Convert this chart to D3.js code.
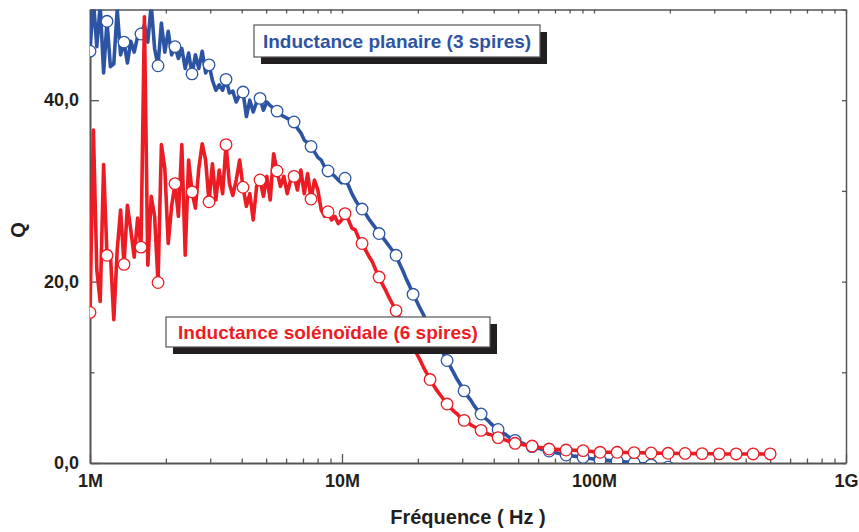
<!DOCTYPE html>
<html><head><meta charset="utf-8">
<script src="https://cdn.jsdelivr.net/npm/d3@7"></script>
<style>
body{margin:0;background:#fff}
text{font-family:"Liberation Sans",Arial,Helvetica,sans-serif;font-weight:bold}
</style>
</head><body>
<svg id="chart" width="859" height="532"></svg>
<script>
// ---- data ----
const sweepStartHz = 1e6;      // first frequency of the log sweep
const sweepStopHz = 5e8;       // last frequency of the log sweep
const markerEvery = 5;         // a marker on every 5th sample

const qPlanaire = [
  45.4, 51, 45.9, 50.5, 43.0, 48.7, 43.7, 44.0, 50, 45.0,
  46.4, 44.1, 46.5, 45.3, 47.0, 47.3, 48.3, 46.4, 50.5, 45.7,
  43.8, 48.5, 45.3, 47.6, 45.0, 45.9, 44.6, 45.7, 43.5, 45.2,
  42.9, 45.0, 43.5, 45.4, 43.0, 43.9, 42.2, 41.1, 41.7, 41.1,
  42.3, 40.8, 41.0, 39.8, 40.6, 40.9, 38.2, 40.0, 38.7, 39.8,
  40.2, 38.9, 39.8, 39.4, 39.1, 38.8, 38.4, 38.2, 38.0, 37.8,
  37.6, 36.9, 36.4, 35.6, 35.3, 34.9, 34.3, 33.7, 33.4, 32.6,
  32.2, 31.9, 31.6, 31.2, 30.9, 31.4, 30.6, 29.7, 29.0, 28.4,
  28.0, 27.5, 26.9, 26.4, 25.9, 25.3, 24.9, 24.4, 23.9, 23.4,
  22.9, 22.0, 21.2, 20.3, 19.5, 18.6, 17.9, 17.1, 16.4, 15.6,
  14.9, 14.2, 13.5, 12.7, 12.0, 11.3, 10.6, 9.9, 9.2, 8.6,
  7.95, 7.4, 6.9, 6.3, 5.8, 5.4, 5.0, 4.7, 4.3, 4.0,
  3.7, 3.4, 3.2, 2.9, 2.7, 2.5, 2.35, 2.2, 2.05, 1.9,
  1.8, 1.7, 1.6, 1.5, 1.4, 1.32, 1.22, 1.13, 1.04, 0.96,
  0.88, 0.83, 0.78, 0.73, 0.68, 0.63, 0.57, 0.5, 0.44, 0.38,
  0.33, 0.31, 0.29, 0.26, 0.24, 0.22, 0.18, 0.14, 0.1, 0.06,
  0.03, -0.01, -0.06, -0.1, -0.15, -0.2, -0.25, -0.3, -0.35, -0.4,
  -0.45, -0.5, -0.55, -0.6, -0.65, -0.7, -0.74, -0.78, -0.82, -0.86,
  -0.9, -1.0, -1.1, -1.2, -1.3, -1.4, -1.5, -1.6, -1.8, -1.9,
  -2.0, -2.1, -2.2, -2.4, -2.5, -2.6, -2.7, -2.9, -3.0, -3.2,
  -3.3
];

const qSolenoidale = [
  16.6, 36.7, 21.3, 17.8, 32.9, 22.9, 23.1, 15.8, 23.5, 27.9,
  21.9, 28.4, 25.7, 22.7, 27.0, 23.8, 49.2, 21.8, 29.4, 27.2,
  19.9, 35.1, 32.5, 24.2, 28.3, 30.8, 27.2, 35.1, 22.9, 33.4,
  29.9, 28.1, 32.5, 35.2, 33.4, 28.8, 33.0, 29.0, 32.3, 29.7,
  35.1, 30.8, 29.5, 31.2, 33.4, 30.4, 28.3, 29.7, 26.8, 30.5,
  31.2, 29.4, 31.6, 29.0, 34.1, 32.2, 30.5, 31.6, 29.7, 31.2,
  31.6, 30.1, 32.3, 29.7, 31.9, 29.1, 31.2, 30.1, 27.9, 27.2,
  27.7, 26.8, 27.2, 26.4, 26.8, 27.5, 26.8, 25.9, 25.7, 24.8,
  24.2, 23.5, 22.8, 22.2, 21.3, 20.5, 19.7, 19.0, 18.2, 17.5,
  16.8, 16.0, 15.2, 14.4, 13.6, 12.9, 12.1, 11.4, 10.6, 9.9,
  9.2, 8.6, 8.0, 7.5, 7.0, 6.5, 6.1, 5.7, 5.4, 5.0,
  4.7, 4.5, 4.2, 4.0, 3.8, 3.6, 3.4, 3.2, 3.1, 2.95,
  2.8, 2.67, 2.55, 2.42, 2.3, 2.17, 2.1, 2.04, 1.98, 1.92,
  1.87, 1.8, 1.73, 1.67, 1.6, 1.54, 1.52, 1.5, 1.47, 1.45,
  1.43, 1.42, 1.4, 1.39, 1.37, 1.36, 1.32, 1.29, 1.25, 1.22,
  1.18, 1.18, 1.18, 1.18, 1.18, 1.18, 1.17, 1.16, 1.15, 1.15,
  1.14, 1.13, 1.13, 1.12, 1.11, 1.1, 1.09, 1.09, 1.08, 1.07,
  1.07, 1.06, 1.06, 1.05, 1.05, 1.05, 1.04, 1.04, 1.03, 1.03,
  1.03, 1.02, 1.02, 1.02, 1.01, 1.01, 1.01, 1.0, 1.0, 1.0,
  1.0, 1.0, 1.0, 1.0, 1.0, 1.0, 1.0, 1.0, 1.0, 1.0,
  1.0
];

const xTickValues = [1e6, 1e7, 1e8, 1e9];
const xTickLabels = ["1M", "10M", "100M", "1G"];
const yTickValues = [0, 20, 40];
const yTickLabels = ["0,0", "20,0", "40,0"];
const yMinorValues = [10, 30, 50];
const seriesNames = ["Inductance planaire (3 spires)", "Inductance solénoïdale (6 spires)"];
const xTitle = "Fréquence ( Hz )";
const yTitle = "Q";

// ---- drawing ----
const BLUE = "#2d54a3", RED = "#ec1c24", INK = "#231f20", AX = "#555";
const L = 90, R = 846, T = 9.5, B = 463;
const svg = d3.select("#chart");

const x = d3.scaleLog().domain([1e6, 1e9]).range([L, R]);
const y = d3.scaleLinear().domain([0, 50]).range([B, T]);

const n = qPlanaire.length;
const freqAt = i => sweepStartHz * Math.pow(sweepStopHz / sweepStartHz, i / (n - 1));
const toPts = arr => arr.map((q, i) => ({f: freqAt(i), q, i}));
const blue = toPts(qPlanaire), red = toPts(qSolenoidale);

svg.append("clipPath").attr("id", "clip").append("rect")
  .attr("x", L).attr("y", T).attr("width", R - L).attr("height", B - T);

const minorX = [];
for (let d = 1e6; d < 1e9; d *= 10) for (let k = 2; k <= 9; k++) minorX.push(d * k);

function styleAxis(g, w) {
  g.select(".domain").attr("stroke", AX).attr("stroke-width", w);
  g.selectAll(".tick line").attr("stroke", AX).attr("stroke-width", 1.3);
  g.selectAll("text").attr("fill", INK).style("font-size", "18px").style("font-weight", "bold")
    .style("font-family", '"Liberation Sans", Arial, sans-serif');
}

// bottom axis
const gb = svg.append("g").attr("transform", `translate(0,${B})`)
  .call(d3.axisBottom(x).tickValues(xTickValues).tickSizeInner(-9).tickSizeOuter(0).tickPadding(11)
    .tickFormat((d, i) => xTickLabels[i]));
styleAxis(gb, 2);
svg.append("g").attr("transform", `translate(0,${B})`)
  .call(d3.axisBottom(x).tickValues(minorX).tickSizeInner(-4.5).tickSizeOuter(0).tickFormat(""))
  .call(g => { g.select(".domain").remove(); styleAxis(g, 2); });
// top axis
svg.append("g").attr("transform", `translate(0,${T})`)
  .call(d3.axisTop(x).tickValues(xTickValues.concat(minorX)).tickSizeInner(-4).tickSizeOuter(0).tickFormat(""))
  .call(g => styleAxis(g, 1.5));
// left axis
const gl = svg.append("g").attr("transform", `translate(${L},0)`)
  .call(d3.axisLeft(y).tickValues(yTickValues).tickSizeInner(-9).tickSizeOuter(0).tickPadding(11)
    .tickFormat((d, i) => yTickLabels[i]));
styleAxis(gl, 2);
svg.append("g").attr("transform", `translate(${L},0)`)
  .call(d3.axisLeft(y).tickValues(yMinorValues).tickSizeInner(-4.5).tickSizeOuter(0).tickFormat(""))
  .call(g => { g.select(".domain").remove(); styleAxis(g, 2); });
// right axis
svg.append("g").attr("transform", `translate(${R},0)`)
  .call(d3.axisRight(y).tickValues(yTickValues.concat(yMinorValues)).tickSizeInner(-4).tickSizeOuter(0).tickFormat(""))
  .call(g => styleAxis(g, 1.5));

// series
const line = d3.line().x(d => x(d.f)).y(d => y(d.q));
const plot = svg.append("g").attr("clip-path", "url(#clip)");
[[blue, BLUE], [red, RED]].forEach(([pts, col]) => {
  plot.append("path").datum(pts).attr("d", line).attr("fill", "none")
    .attr("stroke", col).attr("stroke-width", 3.6).attr("stroke-linejoin", "round");
  plot.append("g").selectAll("circle").data(pts.filter(p => p.i % markerEvery === 0)).join("circle")
    .attr("cx", d => x(d.f)).attr("cy", d => y(d.q)).attr("r", 5.8)
    .attr("fill", "#fff").attr("stroke", col).attr("stroke-width", 1.3);
});

// legend boxes
function legendBox(x0, y0, w, h, label, col) {
  const g = svg.append("g");
  g.append("rect").attr("x", x0 + 7).attr("y", y0 + 7).attr("width", w).attr("height", h).attr("fill", INK);
  g.append("rect").attr("x", x0).attr("y", y0).attr("width", w).attr("height", h)
    .attr("fill", "#fff").attr("stroke", "#555").attr("stroke-width", 1.2);
  g.append("text").attr("x", x0 + w / 2).attr("y", y0 + h / 2).attr("dy", "0.36em")
    .attr("text-anchor", "middle").attr("fill", col).style("font-size", "19px").text(label);
}
legendBox(254, 25, 286, 32, seriesNames[0], BLUE);
legendBox(166, 317, 324, 30, seriesNames[1], RED);

// axis titles
svg.append("text").attr("x", 468).attr("y", 524).attr("text-anchor", "middle")
  .attr("fill", INK).style("font-size", "20px").text(xTitle);
svg.append("text").attr("transform", "translate(25,230) rotate(-90)").attr("text-anchor", "middle")
  .attr("fill", INK).style("font-size", "20px").text(yTitle);
</script>
</body></html>
